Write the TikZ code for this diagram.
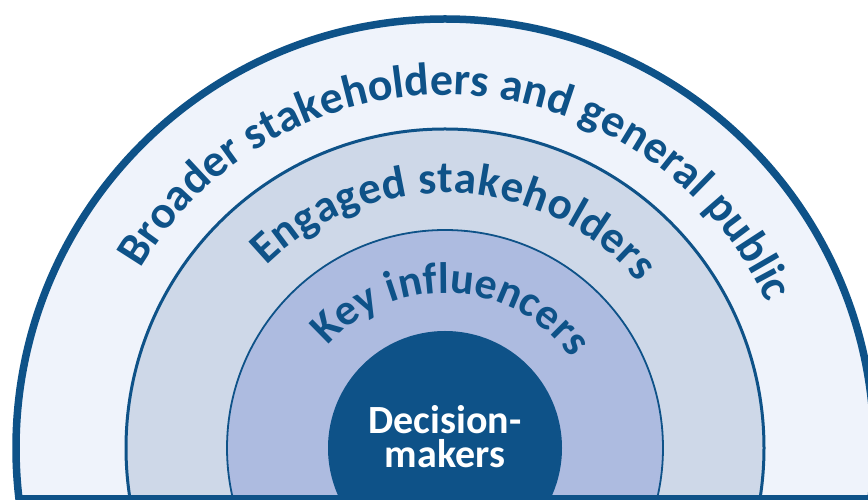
\documentclass[tikz,border=0pt]{standalone}
\usepackage{fontspec}
\newfontfamily\carl{Carlito}
\usetikzlibrary{decorations.text}
\definecolor{dblue}{HTML}{0E5288}
\definecolor{ring1}{HTML}{EFF3FB}
\definecolor{ring2}{HTML}{CED8E8}
\definecolor{ring3}{HTML}{ADBBE0}
\tikzset{
  ringline/.style={draw=dblue},
}
\begin{document}
\begin{tikzpicture}
\useasboundingbox (0pt,0pt) rectangle (868pt,500pt);
\coordinate (c) at (445pt,52pt);
\begin{scope}
\clip (0pt,0pt) rectangle (868pt,500pt);
\fill[white] (0pt,0pt) rectangle (868pt,500pt);
\draw[ringline, fill=ring1, line width=7.5pt] (c) circle[radius=429pt];
\draw[ringline, fill=ring2, line width=3pt] (c) circle[radius=319pt];
\draw[ringline, fill=ring3, line width=1.8pt] (c) circle[radius=218pt];
\fill[dblue] (c) circle[radius=117pt];
\end{scope}
\fill[dblue] (17pt,0pt) rectangle (868pt,4.5pt);
\path[decorate, decoration={text along path, text color=dblue, text align=fit to path,
  text={|\carl\bfseries\fontsize{46}{46}\selectfont|Broader stakeholders and general public}}]
  (c) ++(149.5:353pt) arc[start angle=149.5, end angle=25.5, radius=353pt];
\path[decorate, decoration={text along path, text color=dblue, text align=fit to path,
  text={|\carl\bfseries\fontsize{45}{45}\selectfont|Engaged stakeholders}}]
  (c) ++(134.5:255pt) arc[start angle=134.5, end angle=40.5, radius=255pt];
\path[decorate, decoration={text along path, text color=dblue, text align=fit to path,
  text={|\carl\bfseries\fontsize{44}{44}\selectfont|Key influencers}}]
  (c) ++(139:155pt) arc[start angle=139, end angle=35.5, radius=155pt];
\node[text=white, font=\carl\bfseries\fontsize{40}{34}\selectfont, align=center, anchor=base] (dm) at (445pt,32pt) {Decision-\\makers};
\end{tikzpicture}
\end{document}
